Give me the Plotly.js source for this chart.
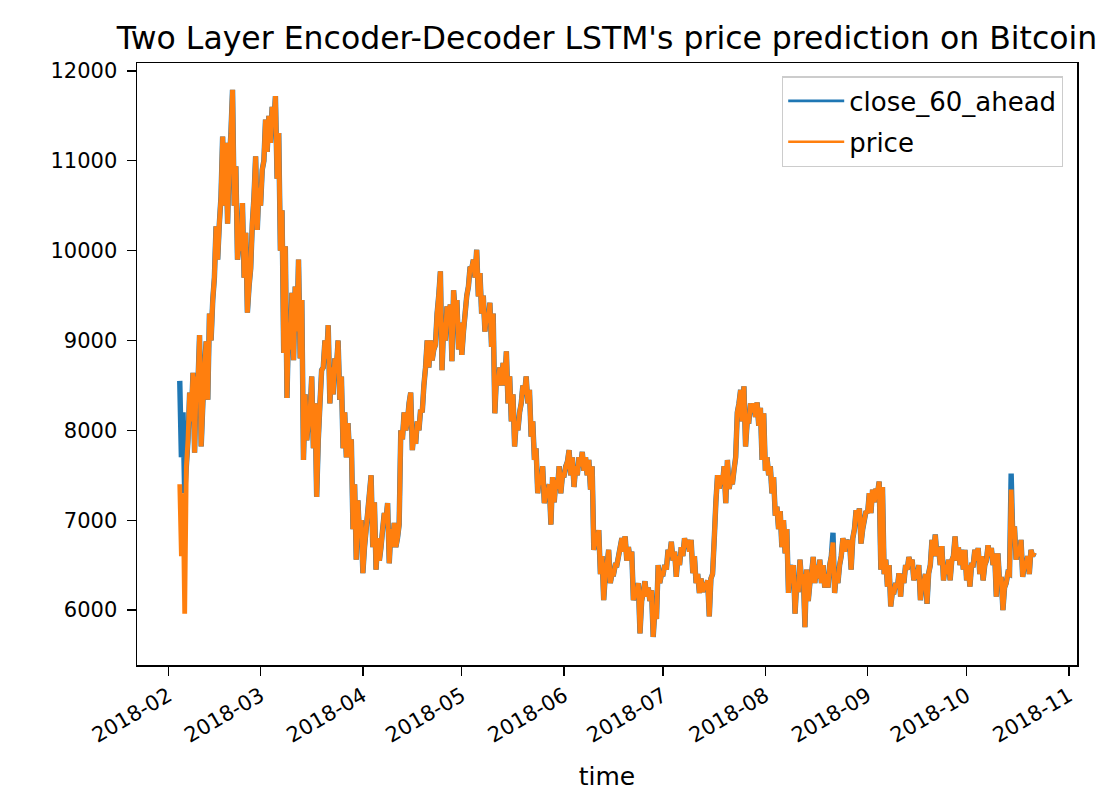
<!DOCTYPE html>
<html>
<head>
<meta charset="utf-8">
<script src="https://cdn.plot.ly/plotly-3.0.1.min.js"></script>
<style>
html,body{margin:0;padding:0;background:#fff;}
#chart{width:1104px;height:791px;}
</style>
</head>
<body>
<div id="chart"></div>
<script>
// ---------------- DATA ----------------
// Time grid: one value every 12 hours, starting 2018-02-04 12:00
const seriesStartUTC = [2018, 1, 4, 12];   // year, month(0-based), day, hour
const stepHours = 12;

// "price" series (orange): first value for 2018-02-04 12:00, then one low/high reading pair per day
const price = [
  7400,
  7300, 6600,  5960, 7600,  8420, 7900,  8640, 8100,  7750, 8600,  9060, 8500,  7820, 8300,  // Feb 5-11
  8700, 8990,  8340, 9300,  9000, 9450,  10270, 9700, 10300, 9900, 10600, 11270, 10500, 11200, // Feb 12-18
  10300, 11000, 11300, 11790, 10940, 10500, 9900, 10100, 10000, 10530, 10200, 9700, 9310, 9600, // Feb 19-25
  9800, 10300, 10600, 11050, 10700, 10230,                                                 // Feb 26-28
  10500, 10900, 11000, 11460, 11100, 11500, 11200, 11600, 11720, 11400, 11310, 10800, 10450, 10000, // Mar 1-7
  10050, 8860, 8360, 9200, 9530, 8900, 8780, 9600, 9900, 9100, 9450, 8800, 8400, 7670,     // Mar 8-14
  8100, 7890, 8600, 8200, 8300, 7800, 7260, 7900, 8670, 8300, 8700, 9000, 9170, 8800,      // Mar 15-21
  8700, 8300, 8400, 8800, 9000, 8700, 8340, 8600, 8200, 7800, 7700, 8080, 7900, 7700,      // Mar 22-28
  7400, 6900, 6560, 7220, 6800, 7000,                                                      // Mar 29-31
  6700, 6410, 6900, 7100, 7300, 7500, 7200, 6700, 6800, 6450, 6700, 6550, 6900, 7080,      // Apr 1-7
  7000, 7190, 6900, 6520, 6700, 6970, 6800, 6700, 6950, 8000, 8200, 7900, 8000, 8100,      // Apr 8-14
  8300, 8420, 8000, 7780, 8100, 7850, 8000, 8230, 8200, 8500, 8700, 9000, 8700, 9000,      // Apr 15-21
  8900, 8780, 8950, 9300, 9500, 9770, 9200, 8670, 9000, 9380, 9200, 9400, 8770, 9560,      // Apr 22-28
  9450, 9300, 9200, 8900,                                                                  // Apr 29-30
  8840, 9100, 9300, 9500, 9820, 9600, 9800, 9900, 10010, 9700, 9750, 9490, 9300, 9500,     // May 1-7
  9310, 9100, 9200, 9420, 9300, 8930, 8600, 8190, 8500, 8700, 8500, 8750, 8880, 8500,      // May 8-14
  8300, 8600, 8400, 8100, 7820, 8100, 8200, 8000, 8300, 8500, 8600, 8400, 8300, 8450,      // May 15-21
  8100, 7930, 7800, 7670, 7500, 7300, 7600, 7400, 7350, 7190, 7300, 7400, 7480, 6950,      // May 22-28
  7200, 7450, 7600, 7350, 7500, 7300,                                                      // May 29-31
  7500, 7600, 7650, 7780, 7700, 7500, 7370, 7600, 7700, 7500, 7600, 7760, 7700, 7550,      // Jun 1-7
  7670, 7500, 7340, 7600, 6670, 6800, 6750, 6890, 6600, 6400, 6110, 6400, 6670, 6500,      // Jun 8-14
  6400, 6300, 6500, 6400, 6600, 6500, 6700, 6800, 6820, 6650, 6700, 6550, 6650, 6560,      // Jun 15-21
  6110, 6200, 6150, 6300, 5740, 6100, 6320, 6200, 6250, 6150, 6220, 6100, 6000, 5700,      // Jun 22-28
  5900, 6500, 6400, 6300,                                                                  // Jun 29-30
  6400, 6500, 6670, 6450, 6760, 6600, 6650, 6550, 6370, 6600, 6500, 6700, 6600, 6800,      // Jul 1-7
  6700, 6780, 6780, 6650, 6600, 6410, 6300, 6400, 6190, 6350, 6300, 6200, 6330, 6250,      // Jul 8-14
  5930, 6350, 6400, 6780, 7200, 7500, 7350, 7500, 7400, 7600, 7670, 7190, 7350, 7450,      // Jul 15-21
  7560, 7400, 7700, 8200, 8450, 8300, 8490, 8100, 7820, 8100, 8300, 8100, 8200, 8300,      // Jul 22-28
  8310, 8150, 8250, 8050, 8190, 7670,                                                      // Jul 29-31
  7700, 7550, 7600, 7500, 7480, 7300, 7150, 7050, 7100, 6900, 6700, 7000, 6900, 6630,      // Aug 1-7
  6500, 6190, 6300, 6500, 6300, 5960, 6560, 6200, 6400, 6300, 6450, 5810, 6100, 6300,      // Aug 8-14
  6590, 6400, 6300, 6500, 6560, 6350, 6500, 6300, 6400, 6250, 6500, 6250, 6600, 6750,      // Aug 15-21
  6400, 6190, 6300, 6500, 6800, 6600, 6780, 6650, 6700, 6780, 6450, 6800, 7110, 6900,      // Aug 22-28
  7000, 7130, 6900, 6740, 7000, 7100,                                                      // Aug 29-31
  7300, 7080, 7080, 7340, 7200, 7350, 7300, 7430, 7370, 6450, 6560, 6400, 6500, 6260,      // Sep 1-7
  6200, 6040, 6300, 6200, 6410, 6250, 6150, 6400, 6300, 6500, 6590, 6450, 6500, 6560,      // Sep 8-14
  6450, 6330, 6500, 6350, 6110, 6300, 6400, 6300, 6410, 6070, 6500, 6780, 6600, 6840,      // Sep 15-21
  6700, 6600, 6710, 6500, 6330, 6500, 6400, 6560, 6330, 6550, 6600, 6820, 6700, 6550,      // Sep 22-28
  6670, 6500, 6670, 6450,                                                                  // Sep 29-30
  6500, 6330, 6260, 6500, 6670, 6500, 6690, 6550, 6400, 6600, 6330, 6500, 6720, 6550,      // Oct 1-7
  6690, 6600, 6630, 6500, 6630, 6150, 6370, 6300, 6250, 6000, 6300, 6410, 6400, 7340,      // Oct 8-14
  6800, 6930, 6560, 6700, 6780, 6600, 6500, 6370, 6480, 6600, 6670, 6400, 6640, 6600       // Oct 15-21
];

// "close_60_ahead" series (blue): same as price except where blue shows on its own
const closeOverrideTimes  = ["2018-02-04 12:00", "2018-02-05 00:00", "2018-02-05 12:00", "2018-02-06 00:00", "2018-08-21 12:00", "2018-10-14 12:00"];
const closeOverrideValues = [8550, 7700, 8200, 7300, 6860, 7520];

const monthTicks  = ["2018-02-01","2018-03-01","2018-04-01","2018-05-01","2018-06-01","2018-07-01","2018-08-01","2018-09-01","2018-10-01","2018-11-01"];
const monthLabels = ["2018-02","2018-03","2018-04","2018-05","2018-06","2018-07","2018-08","2018-09","2018-10","2018-11"];
const yTicks = [6000, 7000, 8000, 9000, 10000, 11000, 12000];

// ---------------- BUILD ----------------
// each day's two readings are drawn low (00:00) then high (12:00), so the noisy band stays filled
const ordered = [price[0]];
for (let i = 1; i + 1 < price.length; i += 2) {
  ordered.push(Math.min(price[i], price[i + 1]), Math.max(price[i], price[i + 1]));
}
function fmt(ms){ return new Date(ms).toISOString().slice(0,16).replace('T',' '); }
const t0 = Date.UTC(seriesStartUTC[0], seriesStartUTC[1], seriesStartUTC[2], seriesStartUTC[3]);
const times = ordered.map((_, i) => fmt(t0 + i * stepHours * 3600000));
const close = ordered.slice();
closeOverrideTimes.forEach((t, j) => { const k = times.indexOf(t); if (k >= 0) close[k] = closeOverrideValues[j]; });

const FONT = "DejaVu Sans, Liberation Sans, sans-serif";
const BLUE = '#1f77b4', ORANGE = '#ff7f0e';

const traces = [
  {x: times, y: close, type: 'scatter', mode: 'lines', name: 'close_60_ahead', showlegend: false,
   legendgroup: 'c', line: {color: BLUE, width: 5.4, simplify: false}},
  {x: times, y: ordered, type: 'scatter', mode: 'lines', name: 'price', showlegend: false,
   legendgroup: 'p', line: {color: ORANGE, width: 4.8, simplify: false}},
  // legend entries (thin line samples as in the reference)
  {x: [null], y: [null], type: 'scatter', mode: 'lines', name: 'close_60_ahead',
   legendgroup: 'c', line: {color: BLUE, width: 2.7}},
  {x: [null], y: [null], type: 'scatter', mode: 'lines', name: 'price',
   legendgroup: 'p', line: {color: ORANGE, width: 2.7}}
];

const axisCommon = {
  showline: true, mirror: true, linecolor: '#000', linewidth: 1.5,
  showgrid: false, zeroline: false,
  ticks: 'outside', ticklen: 9, tickwidth: 1.3, tickcolor: '#000',
  tickfont: {family: FONT, size: 21, color: '#000'}
};

const layout = {
  width: 1104, height: 791,
  paper_bgcolor: '#fff', plot_bgcolor: '#fff',
  font: {family: FONT, color: '#000'},
  margin: {l: 137, r: 27, t: 63, b: 126, pad: 0},
  title: {text: "Two Layer Encoder-Decoder LSTM's price prediction on Bitcoin",
          font: {family: FONT, size: 31.5, color: '#000'},
          x: 0.5, xref: 'paper', xanchor: 'center',
          y: 1 - 38/791, yref: 'container', yanchor: 'middle'},
  xaxis: Object.assign({}, axisCommon, {
    type: 'date',
    range: ['2018-01-22 13:00', '2018-11-03 11:00'],
    tickmode: 'array', tickvals: monthTicks, ticktext: monthLabels,
    tickangle: -30,
    title: {text: 'time', font: {family: FONT, size: 25, color: '#000'}, standoff: 23}
  }),
  yaxis: Object.assign({}, axisCommon, {
    range: [5388, 12089],
    tickmode: 'array', tickvals: yTicks, ticktext: yTicks.map(String),
    ticklabelstandoff: 5
  }),
  showlegend: true,
  legend: {x: 0.985, xanchor: 'right', y: 0.978, yanchor: 'top',
           bgcolor: 'rgba(255,255,255,0.8)', bordercolor: '#cccccc', borderwidth: 1.3,
           tracegroupgap: 4,
           font: {family: FONT, size: 26, color: '#000'}, itemwidth: 56}
};

Plotly.newPlot('chart', traces, layout, {displayModeBar: false, staticPlot: true});
</script>
</body>
</html>
